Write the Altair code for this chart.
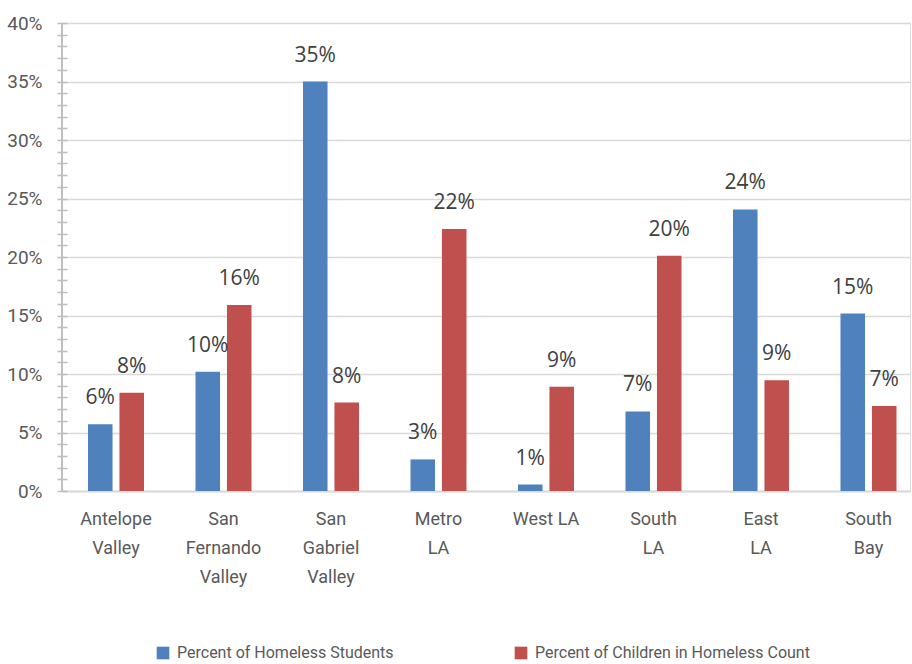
import altair as alt
import pandas as pd

categories = ["Antelope|Valley", "San|Fernando|Valley", "San|Gabriel|Valley", "Metro|LA",
              "West LA", "South|LA", "East|LA", "South|Bay"]
series = ["Percent of Homeless Students", "Percent of Children in Homeless Count"]
students = [5.7, 10.2, 35.0, 2.7, 0.55, 6.8, 24.06, 15.17]
children = [8.4, 15.9, 7.56, 22.4, 8.9, 20.1, 9.47, 7.27]
y_ticks = list(range(0, 41))

rows = []
for c, s, k in zip(categories, students, children):
    rows.append({"region": c, "series": series[0], "value": s})
    rows.append({"region": c, "series": series[1], "value": k})
df = pd.DataFrame(rows)

FONT = "Roboto, sans-serif"
GRAY = "#595959"

x_axis = alt.Axis(labelExpr="split(datum.label, '|')", labelAngle=0,
                  labelFont=FONT, labelFontSize=18, labelColor=GRAY,
                  labelLineHeight=29, labelPadding=19, labelBaseline="top",
                  ticks=False, domainColor="#d9d9d9", domainWidth=2,
                  grid=False, labelLimit=0)
x_scale = alt.Scale(paddingInner=0.479, paddingOuter=0.1837, align=0.658)
y_axis = alt.Axis(values=y_ticks, labelOverlap=False,
                  labelExpr="datum.value % 5 === 0 ? datum.value + '%' : ''",
                  labelFont=FONT, labelFontSize=19, labelColor=GRAY,
                  labelPadding=15, tickSize=10, offset=-5,
                  tickColor="#bfbfbf", tickWidth=1.5,
                  domain=False,
                  gridColor="#d9d9d9", gridWidth=1.5,
                  gridOpacity=alt.ExprRef("datum.value % 5 === 0 ? 1 : 0"))
xo_enc = alt.XOffset("series:N", sort=series,
                     scale=alt.Scale(paddingInner=0.22, paddingOuter=0))
y_scale = alt.Scale(domain=[0, 40], nice=False)

bars = alt.Chart(df).mark_bar().encode(
    x=alt.X("region:N", sort=categories, title=None, scale=x_scale, axis=x_axis),
    xOffset=xo_enc,
    y=alt.Y("value:Q", scale=y_scale, title=None, axis=y_axis),
    color=alt.Color("series:N", sort=series,
                    scale=alt.Scale(domain=series, range=["#4F81BD", "#C0504D"]),
                    legend=alt.Legend(title=None, orient="none", legendX=93, legendY=622,
                                      direction="horizontal", symbolType="square",
                                      symbolSize=160, symbolStrokeWidth=0,
                                      padding=0, offset=0, labelLimit=0,
                                      labelFont=FONT, labelFontSize=16, labelColor=GRAY,
                                      labelOffset=6, columnPadding=119)),
)

labels = alt.Chart(df).transform_calculate(
    label="format(datum.value, '.0f') + '%'"
).mark_text(font="Open Sans", fontSize=21, color="#404040", baseline="alphabetic", dy=-20).encode(
    x=alt.X("region:N", sort=categories, title=None, scale=x_scale, axis=x_axis),
    xOffset=xo_enc,
    y=alt.Y("value:Q", scale=y_scale, title=None, axis=y_axis),
    text="label:N",
)

axis_line = alt.Chart(df).mark_rule(color="#bfbfbf", strokeWidth=2).encode(
    x=alt.value(0),
    y=alt.Y(datum=0, scale=y_scale, title=None, axis=y_axis),
    y2=alt.Y2(datum=40),
)

chart = alt.layer(bars, labels, axis_line).properties(
    width=848, height=468,
    padding={"left": 62, "top": 23, "right": 2, "bottom": 173},
    autosize=alt.AutoSizeParams(type="none"),
).configure_view(stroke=None).configure(background="white")

chart.save("out.html", embed_options={"renderer": "svg", "actions": False})
